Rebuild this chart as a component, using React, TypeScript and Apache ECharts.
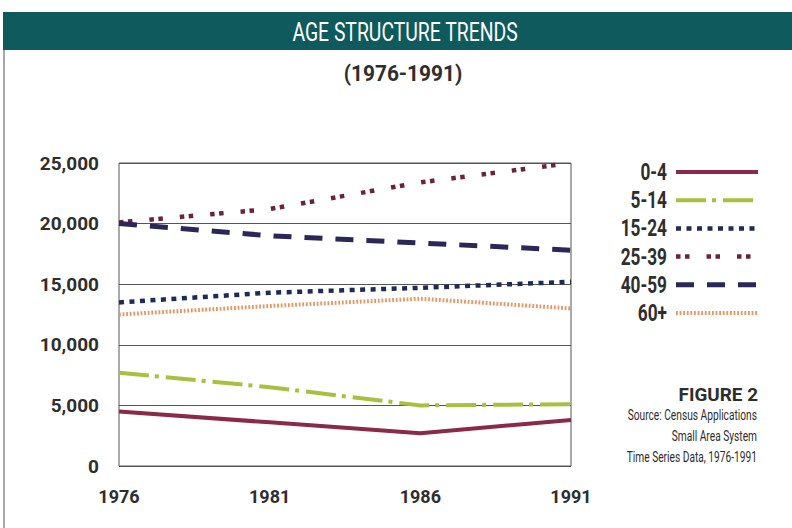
import React, { useEffect, useRef } from "react";
import * as echarts from "echarts";

// Census years on the x axis
const years = ["1976", "1981", "1986", "1991"];

// Population by age group
const ageGroups = ["0-4", "5-14", "15-24", "25-39", "40-59", "60+"];
const age0to4 = [4500, 3600, 2700, 3800];
const age5to14 = [7700, 6500, 5000, 5100];
const age15to24 = [13500, 14300, 14700, 15200];
const age25to39 = [20100, 21200, 23400, 25000];
const age40to59 = [20000, 19000, 18400, 17800];
const age60plus = [12500, 13200, 13800, 13000];

// Caption lines
const figureLabel = "FIGURE 2";
const sourceLines = [
  "Source: Census Applications",
  "Small Area System",
  "Time Series Data, 1976-1991",
];

const FONT = "Roboto, 'Noto Sans', sans-serif";
const INK = "#2e2e2e";

const seriesData = [age0to4, age5to14, age15to24, age25to39, age40to59, age60plus];
const lineLooks: { color: string; width: number; dash: number[] | "solid" }[] = [
  { color: "#8b2948", width: 4, dash: "solid" },
  { color: "#a7c040", width: 4, dash: [30, 6, 4, 7] },
  { color: "#1d2b57", width: 4.5, dash: [5, 5.5] },
  { color: "#6a2338", width: 4.5, dash: [4.5, 4.5, 4.5, 17] },
  { color: "#2b2858", width: 5, dash: [18, 13] },
  { color: "#e8955f", width: 4, dash: [1.8, 1.8] },
];

export default function App() {
  const ref = useRef<HTMLDivElement>(null);

  useEffect(() => {
    if (!ref.current) return;
    const chart = echarts.init(ref.current, undefined, { renderer: "svg" });

    const legendTop = 172;
    const legendStep = 28.2;
    const legendItems: any[] = [];
    ageGroups.forEach((name, i) => {
      const y = legendTop + i * legendStep;
      const look = lineLooks[i];
      legendItems.push({
        type: "text",
        x: 667,
        y,
        scaleX: 0.75,
        style: {
          text: name,
          fill: INK,
          font: `bold 23px ${FONT}`,
          textAlign: "right",
          textVerticalAlign: "middle",
        },
      });
      legendItems.push({
        type: "line",
        shape: { x1: 676, y1: y, x2: 758, y2: y },
        style: {
          stroke: look.color,
          lineWidth: look.width,
          lineDash: look.dash === "solid" ? null : look.dash,
        },
      });
    });

    chart.setOption({
      animation: false,
      backgroundColor: "#ffffff",
      grid: {
        left: 119,
        right: 221,
        top: 163,
        bottom: 62,
        show: true,
        borderColor: "#555",
        borderWidth: 1,
        containLabel: false,
      },
      xAxis: {
        type: "category",
        data: years,
        boundaryGap: false,
        axisLine: { show: false },
        axisTick: { show: false },
        splitLine: { show: false },
        axisLabel: {
          color: INK,
          fontFamily: FONT,
          fontWeight: "bold",
          fontSize: 18,
          margin: 21,
        },
      },
      yAxis: {
        type: "value",
        min: 0,
        max: 25000,
        interval: 5000,
        axisLine: { show: false },
        axisTick: { show: false },
        splitLine: { show: true, lineStyle: { color: "#555", width: 1 } },
        axisLabel: {
          color: INK,
          fontFamily: FONT,
          fontWeight: "bold",
          fontSize: 19,
          margin: 20,
          formatter: (v: number) => v.toLocaleString("en-US"),
        },
      },
      series: ageGroups.map((name, i) => ({
        name,
        type: "line",
        data: seriesData[i],
        showSymbol: false,
        symbol: "none",
        smooth: false,
        lineStyle: {
          color: lineLooks[i].color,
          width: lineLooks[i].width,
          type: lineLooks[i].dash,
          cap: "butt",
        },
      })),
      graphic: [
        // outer frame edge
        {
          type: "line",
          shape: { x1: 4, y1: 12, x2: 4, y2: 528 },
          style: { stroke: "#8a8a8a", lineWidth: 1.5 },
        },
        // title band
        {
          type: "rect",
          shape: { x: 3, y: 12, width: 792, height: 38 },
          style: { fill: "#0e5a5d" },
        },
        {
          type: "text",
          x: 405,
          y: 32,
          scaleX: 0.745,
          style: {
            text: "AGE STRUCTURE TRENDS",
            fill: "#ffffff",
            font: `26px ${FONT}`,
            textAlign: "center",
            textVerticalAlign: "middle",
          },
        },
        {
          type: "text",
          x: 403,
          y: 73,
          scaleX: 0.95,
          style: {
            text: "(1976-1991)",
            fill: INK,
            font: `bold 22px ${FONT}`,
            textAlign: "center",
            textVerticalAlign: "middle",
          },
        },
        ...legendItems,
        {
          type: "text",
          x: 758,
          y: 395,
          scaleX: 1.05,
          style: {
            text: figureLabel,
            fill: INK,
            font: `bold 18px ${FONT}`,
            textAlign: "right",
            textVerticalAlign: "middle",
          },
        },
        ...sourceLines.map((line, i) => ({
          type: "text",
          x: 757,
          y: 415 + i * 21,
          scaleX: 0.68,
          style: {
            text: line,
            fill: INK,
            font: `15px ${FONT}`,
            textAlign: "right",
            textVerticalAlign: "middle",
          },
        })),
      ],
    });

    return () => chart.dispose();
  }, []);

  return (
    <div
      ref={ref}
      style={{ position: "fixed", left: 0, top: 0, width: 792, height: 528 }}
    />
  );
}
